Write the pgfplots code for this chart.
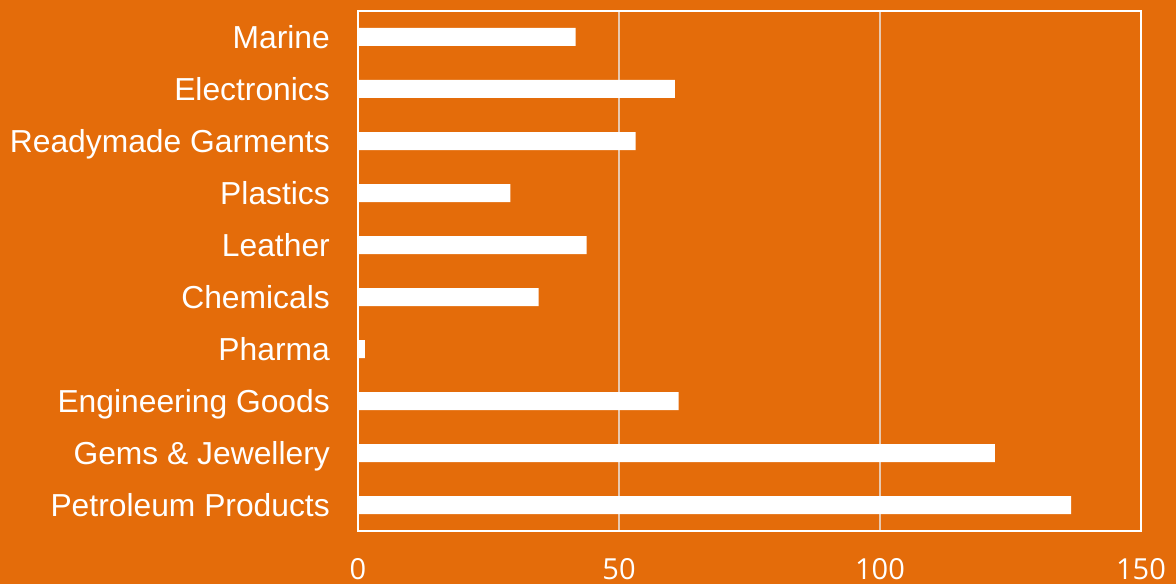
\documentclass[border=0pt]{standalone}
\usepackage{pgfplots}
\pgfplotsset{compat=1.18}
\usepackage{fontspec}
\setmainfont{Liberation Sans}
\newfontfamily\opensans{Open Sans}
\definecolor{bgor}{RGB}{228,108,10}
\definecolor{gridc}{RGB}{232,200,175}
\begin{document}
\begin{tikzpicture}
\fill[bgor] (0,0) rectangle (1176pt,-584pt);
\begin{axis}[
  at={(358pt,-531pt)}, anchor=south west,
  scale only axis, width=783pt, height=520pt,
  xbar, bar width=18pt,
  xmin=0, xmax=150, ymin=-0.5, ymax=9.5,
  xtick={0,50,100,150}, xticklabels={0,50,100,150},
  ytick={0,...,9},
  yticklabels={Petroleum Products,Gems \& Jewellery,Engineering Goods,Pharma,Chemicals,Leather,Plastics,Readymade Garments,Electronics,Marine},
  major tick length=0pt,
  xmajorgrids, grid style={gridc, line width=1.5pt},
  axis line style={white, line width=1.5pt},
  yticklabel style={font=\fontsize{31.8}{38}\selectfont, text=white, anchor=east, inner sep=0pt, xshift=-28pt, text height=22.8pt, text depth=0pt},
  xticklabel style={font=\opensans\fontsize{29}{34}\selectfont, text=white, anchor=base, inner sep=0pt, yshift=-48pt},
]
\addplot[fill=white, draw=none] coordinates {
(136.6,0) (122.0,1) (61.4,2) (1.3,3) (34.6,4) (43.8,5) (29.2,6) (53.2,7) (60.7,8) (41.7,9)};
\end{axis}
\pgfresetboundingbox
\path[use as bounding box] (0,0) rectangle (1176pt,-584pt);
\end{tikzpicture}
\end{document}
